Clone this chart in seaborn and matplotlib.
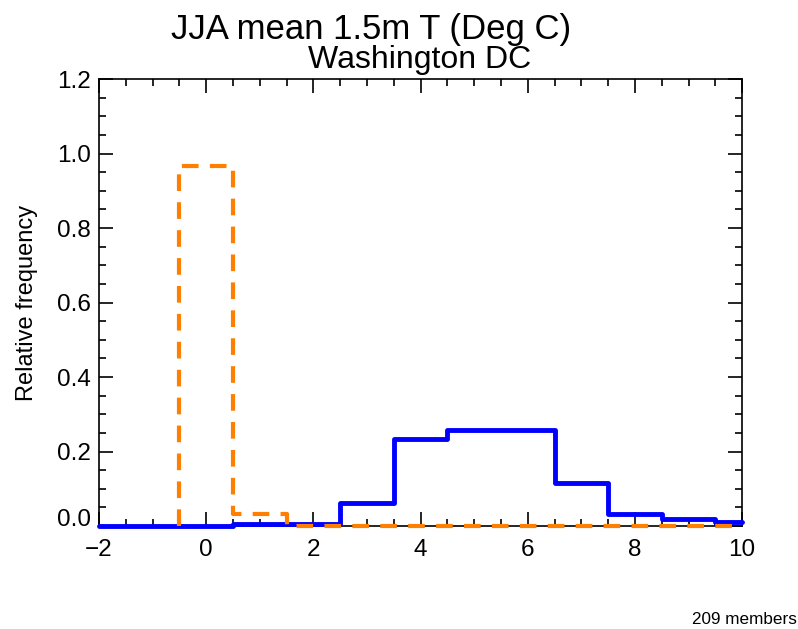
import numpy as np
import pandas as pd
import seaborn as sns
import matplotlib.pyplot as plt
import matplotlib.transforms as mtransforms
from matplotlib.ticker import MultipleLocator

# bin centres (deg C) and member counts out of 209
bin_centres = [-2, -1, 0, 1, 2, 3, 4, 5, 6, 7, 8, 9, 10]
bin_edges = [-2, -1.5, -0.5, 0.5, 1.5, 2.5, 3.5, 4.5, 5.5, 6.5, 7.5, 8.5, 9.5, 10]
blue_counts = [0, 0, 0, 1, 1, 13, 49, 54, 54, 24, 7, 4, 2]
# orange series only starts at the 0 deg bin
orange_centres = [0, 1, 2, 3, 4, 5, 6, 7, 8, 9, 10]
orange_counts = [202, 7, 0, 0, 0, 0, 0, 0, 0, 0, 0]
n_members = 209

blue_df = pd.DataFrame({'T': bin_centres,
                        'freq': np.array(blue_counts) / n_members})

# step outline for the orange series (rises from zero at its first bin edge)
o_edges = [c - 0.5 for c in orange_centres] + [orange_centres[-1]]
o_freq = list(np.array(orange_counts) / n_members)
orange_df = pd.DataFrame({'T': [o_edges[0]] + o_edges,
                          'freq': [0.0] + o_freq + [o_freq[-1]]})

sns.set_style('ticks', rc={'text.color': 'black', 'axes.labelcolor': 'black',
                           'xtick.color': 'black', 'ytick.color': 'black',
                           'axes.edgecolor': 'black'})
plt.rcParams['font.family'] = ['Liberation Sans', 'DejaVu Sans']

fig = plt.figure(figsize=(7.98, 6.29), dpi=100)
ax = fig.add_axes([0.124, 0.1637, 0.806, 0.7107])

sns.histplot(data=blue_df, x='T', weights='freq', bins=bin_edges, element='step',
             fill=False, stat='count', color='#0000FF', linewidth=3.5,
             ax=ax, clip_on=False, zorder=3)
sns.lineplot(data=orange_df, x='T', y='freq', estimator=None, sort=False,
             drawstyle='steps-post', color='#FF8000', linewidth=3,
             linestyle=(0, (4, 2.7)), ax=ax, clip_on=False, zorder=4)

ax.set_xlim(-2, 10)
ax.set_ylim(0, 1.2)
ax.xaxis.set_major_locator(MultipleLocator(2))
ax.xaxis.set_minor_locator(MultipleLocator(0.5))
ax.yaxis.set_major_locator(MultipleLocator(0.2))
ax.yaxis.set_minor_locator(MultipleLocator(0.05))
ax.yaxis.set_major_formatter(plt.FormatStrFormatter('%.1f'))
ax.tick_params(which='both', direction='in', top=True, right=True,
               labelsize=17.5, color='black', width=1.2)
ax.tick_params(which='major', length=10)
ax.tick_params(axis='x', which='major', pad=9)
ax.tick_params(axis='y', which='major', pad=6)
ax.tick_params(which='minor', length=5)
for s in ax.spines.values():
    s.set_linewidth(1.2)

ax.set_xlabel('')
ax.set_ylabel('Relative frequency', fontsize=17)
ax.yaxis.set_label_coords(-0.095, 0.5)

fig.text(371 / 798, 1 - 30 / 629, 'JJA mean 1.5m T (Deg C)', ha='center',
         va='center', fontsize=25)
fig.text(420 / 798, 1 - 60 / 629, 'Washington DC', ha='center',
         va='center', fontsize=23)
fig.text(797 / 798, 1 - 620 / 629, '209 members', ha='right',
         va='center', fontsize=12.3)

# the bottom "0.0" label sits a little above its tick
fig.canvas.draw()
for tick in ax.yaxis.get_major_ticks():
    if abs(tick.get_loc()) < 1e-9:
        lab = tick.label1
        lab.set_transform(lab.get_transform() +
                          mtransforms.ScaledTranslation(0, 6 / 72, fig.dpi_scale_trans))

fig.savefig('out.png', dpi=100)
